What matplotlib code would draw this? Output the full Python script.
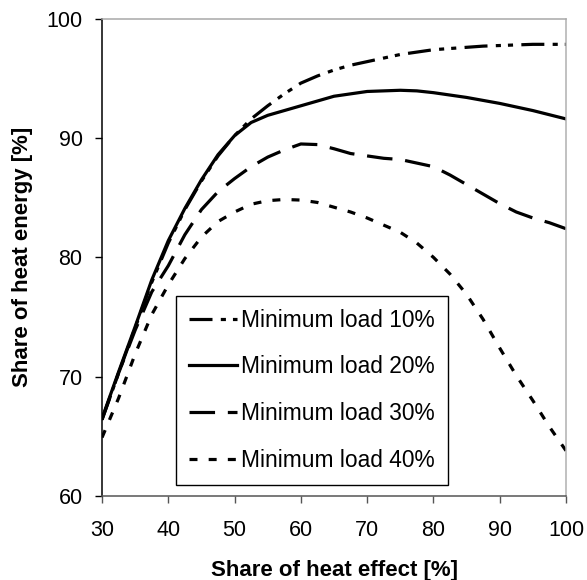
import numpy as np
import matplotlib
matplotlib.use("Agg")
import matplotlib.pyplot as plt

plt.rcParams['font.family'] = ['Liberation Sans', 'DejaVu Sans']

# Share of heat effect [%]
x = [30, 32.5, 35, 37.5, 40, 42.5, 45, 47.5, 50, 52.5, 55, 57.5, 60, 62.5, 65,
     67.5, 70, 72.5, 75, 77.5, 80, 82.5, 85, 87.5, 90, 92.5, 95, 97.5, 100]

# Share of heat energy [%] per minimum load
load_10 = [66.4, 70.3, 74.1, 77.9, 81.2, 84.0, 86.4, 88.5, 90.2, 91.6, 92.7, 93.7, 94.6, 95.2, 95.7,
           96.1, 96.4, 96.7, 97.0, 97.2, 97.4, 97.5, 97.6, 97.7, 97.75, 97.8, 97.85, 97.85, 97.85]
load_20 = [66.5, 70.4, 74.2, 78.1, 81.4, 84.1, 86.5, 88.6, 90.2, 91.3, 91.9, 92.3, 92.7, 93.1, 93.5,
           93.7, 93.9, 93.95, 94.0, 93.95, 93.8, 93.6, 93.4, 93.15, 92.9, 92.6, 92.3, 91.95, 91.6]
load_30 = [66.4, 70.3, 73.9, 77.1, 79.3, 81.9, 84.0, 85.5, 86.6, 87.6, 88.4, 89.0, 89.5, 89.45, 89.1,
           88.7, 88.5, 88.3, 88.2, 87.9, 87.6, 86.9, 86.1, 85.3, 84.5, 83.8, 83.3, 82.9, 82.4]
load_40 = [64.9, 68.2, 71.9, 75.2, 77.7, 79.9, 81.7, 83.0, 83.8, 84.45, 84.75, 84.85, 84.8, 84.6, 84.2,
           83.8, 83.3, 82.7, 82.1, 81.2, 80.0, 78.6, 76.9, 74.8, 72.4, 70.1, 68.0, 65.8, 63.8]

labels = ['Minimum load 10%', 'Minimum load 20%', 'Minimum load 30%', 'Minimum load 40%']

fig = plt.figure(figsize=(5.87, 5.80), dpi=100)
ax = fig.add_axes([0.1738, 0.1448, 0.7904, 0.8230])

lw = 2.3
ax.plot(x, load_10, color='black', lw=lw, dashes=[7.2, 2.6, 1.6, 2.2, 1.6, 2.6], label=labels[0])
ax.plot(x, load_20, color='black', lw=lw, label=labels[1])
ax.plot(x, load_30, color='black', lw=lw, dashes=[8, 4], label=labels[2])
ax.plot(x, load_40, color='black', lw=lw, dashes=[2.5, 3.5], label=labels[3])

ax.set_xlim(30, 100)
ax.set_ylim(60, 100)
ax.set_xticks(np.arange(30, 101, 10))
ax.set_yticks(np.arange(60, 101, 10))

ax.spines['top'].set_color('#a8a8a8')
ax.spines['right'].set_color('#b0b0b0')
ax.spines['bottom'].set_color('#555555')
ax.spines['left'].set_color('black')
for s in ax.spines.values():
    s.set_linewidth(1.1)

ax.tick_params(axis='y', direction='out', length=5, width=1, pad=9, labelsize=15.5, color='black')
ax.tick_params(axis='x', direction='out', length=5, width=1, pad=12, labelsize=15.5, color='#555555')

ax.set_xlabel('Share of heat effect [%]', fontsize=16, fontweight='bold', labelpad=14)
ax.set_ylabel('Share of heat energy [%]', fontsize=16, fontweight='bold', labelpad=10)

leg = ax.legend(loc='lower left', bbox_to_anchor=(0.1595, 0.023), borderaxespad=0,
                fontsize=16.4, handlelength=2.1, handletextpad=0.2, labelspacing=1.045,
                borderpad=0.57, frameon=True, fancybox=False, framealpha=1)
leg.get_frame().set_edgecolor('black')
leg.get_frame().set_linewidth(1.0)

fig.savefig('out.png', dpi=100)
